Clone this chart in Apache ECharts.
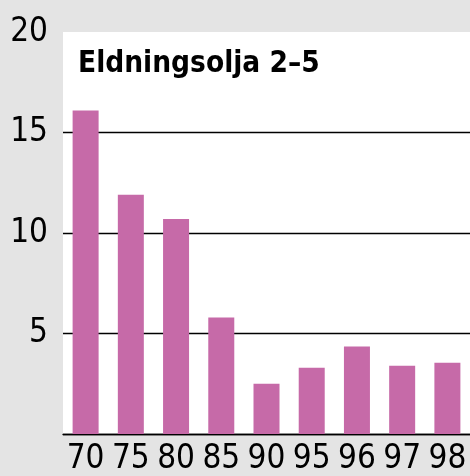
<!DOCTYPE html>
<html><head><meta charset="utf-8">
<script src="https://cdn.jsdelivr.net/npm/echarts@6/dist/echarts.min.js"></script>
<style>html,body{margin:0;padding:0;background:#e4e4e4;}#c{width:470px;height:476px;}</style>
</head><body><div id="c"></div>
<script>
const titleText = 'Eldningsolja 2–5';
const categories = ['70','75','80','85','90','95','96','97','98'];
const values = [16.1, 11.9, 10.7, 5.8, 2.5, 3.3, 4.35, 3.4, 3.55];
const yMin = 0, yMax = 20, yStep = 5;
const FONT = '"DejaVu Sans Condensed", "Liberation Sans Narrow", sans-serif';
const chart = echarts.init(document.getElementById('c'));
chart.setOption({
  backgroundColor: '#e4e4e4',
  animation: false,
  title: {text: titleText, left: 73, top: 44,
    textStyle: {fontFamily: FONT, fontWeight: 'bold', fontSize: 29.5, color: '#000'}},
  grid: {left: 63, top: 32, width: 409.5, height: 403, show: true, backgroundColor: '#fff', borderWidth: 0, containLabel: false},
  xAxis: {type: 'category', data: categories,
    axisLine: {lineStyle: {color: '#000', width: 1.3}}, axisTick: {show: false},
    axisLabel: {interval: 0, fontFamily: FONT, fontSize: 33, color: '#000', margin: 9}},
  yAxis: {type: 'value', min: yMin, max: yMax, interval: yStep,
    axisLine: {show: false}, axisTick: {show: false},
    axisLabel: {fontFamily: FONT, fontSize: 33, color: '#000', margin: 15, showMinLabel: false, padding: [0,0,16,0]},
    splitLine: {lineStyle: {color: ['#000','#000','#000','#000','rgba(0,0,0,0)'], width: 1.3}}},
  series: [{type: 'bar', data: values, barWidth: 26, itemStyle: {color: '#c66aa8'}}]
});
</script></body></html>
